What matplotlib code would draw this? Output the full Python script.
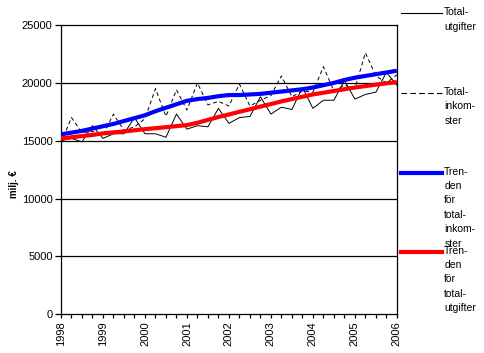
import numpy as np
import matplotlib
matplotlib.use("Agg")
import matplotlib.pyplot as plt
from matplotlib.lines import Line2D
from matplotlib.ticker import MultipleLocator

plt.rcParams['font.family'] = ['Liberation Sans', 'DejaVu Sans']

# quarterly data, 1998Q1 .. 2006Q1 (milj. euro)
quarters = 1998 + np.arange(33) / 4

totalutgifter = [15000, 15200, 14900, 16300, 15200, 15600, 15600, 17000,
                 15600, 15600, 15300, 17300, 16000, 16300, 16200, 17800,
                 16500, 17000, 17100, 18800, 17300, 17900, 17700, 19600,
                 17800, 18500, 18500, 20200, 18600, 19000, 19200, 20900,
                 19800]

totalinkomster = [14800, 17000, 15700, 15800, 15500, 17300, 15900, 16200,
                  16900, 19500, 17100, 19400, 17650, 20000, 18100, 18400,
                  18000, 19900, 18000, 18500, 18900, 20600, 18800, 19300,
                  19200, 21400, 19300, 19800, 19500, 22600, 20600, 20000,
                  20700]

trend_inkomster = [15550, 15700, 15850, 16050, 16250, 16450, 16700, 16950,
                   17200, 17550, 17850, 18150, 18450, 18600, 18700, 18850,
                   18950, 18950, 19000, 19050, 19150, 19250, 19350, 19450,
                   19600, 19800, 20000, 20250, 20450, 20600, 20750, 20900,
                   21050]

trend_utgifter = [15200, 15300, 15400, 15500, 15630, 15720, 15800, 15900,
                  16000, 16080, 16170, 16260, 16350, 16550, 16800, 17050,
                  17270, 17500, 17720, 17950, 18170, 18400, 18600, 18800,
                  19000, 19150, 19300, 19450, 19600, 19720, 19850, 19960,
                  20070]

years = list(range(1998, 2007))

fig = plt.figure(figsize=(4.84, 3.53), dpi=100)
ax = fig.add_axes([0.126, 0.110, 0.694, 0.819])

# grid lines
for v in [5000, 10000, 15000, 20000]:
    ax.axhline(v, color='black', lw=0.9, zorder=1)

ax.plot(quarters, totalutgifter, color='black', lw=0.7, zorder=3)
ax.plot(quarters, totalinkomster, color='black', lw=0.7, ls=(0, (4, 3)), zorder=3)
ax.plot(quarters, trend_inkomster, color='#0000ff', lw=3, zorder=4, solid_capstyle='butt')
ax.plot(quarters, trend_utgifter, color='#ff0000', lw=3, zorder=4, solid_capstyle='butt')

ax.set_xlim(1998, 2006)
ax.set_ylim(0, 25000)
ax.set_yticks(range(0, 25001, 5000))
ax.set_xticks(years)
ax.set_xticklabels([str(y) for y in years], rotation=90, fontsize=8)
ax.xaxis.set_minor_locator(MultipleLocator(0.25))
ax.tick_params(axis='y', labelsize=8, length=4, width=0.9, pad=2)
ax.tick_params(axis='x', which='both', length=3, width=0.9, pad=2)
for s in ax.spines.values():
    s.set_linewidth(0.9)
ax.set_ylabel('milj. €', fontsize=7, fontweight='bold')
ax.yaxis.set_label_coords(-0.125, 0.45)

# legend drawn at the right side
entries = [
    (0.962, 'Total-\nutgifter', dict(color='black', lw=0.8)),
    (0.737, 'Total-\ninkom-\nster', dict(color='black', lw=0.8, ls=(0, (5, 3)))),
    (0.511, 'Tren-\nden\nför\ntotal-\ninkom-\nster', dict(color='#0000ff', lw=3)),
    (0.287, 'Tren-\nden\nför\ntotal-\nutgifter', dict(color='#ff0000', lw=3)),
]
for y, label, style in entries:
    fig.add_artist(Line2D([0.829, 0.913], [y, y],
                          transform=fig.transFigure, **style))
    fig.text(0.918, y + 0.017, label, fontsize=7.5, va='top', ha='left',
             linespacing=1.55)

fig.savefig('out.png', dpi=100)
